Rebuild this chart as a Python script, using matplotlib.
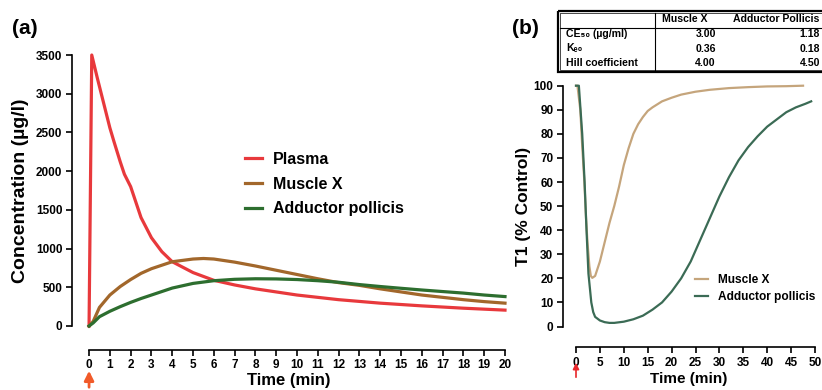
import matplotlib
matplotlib.use("Agg")
from matplotlib import pyplot as plt
from matplotlib.patches import Rectangle

plt.rcParams['font.family'] = ['Liberation Sans', 'DejaVu Sans']
plt.rcParams['font.weight'] = 'bold'

# panel (a): concentration vs time
plasma_t = [0, 0.13, 0.4, 0.7, 1.0, 1.2, 1.5, 1.7, 2.0, 2.5, 3.0, 3.5, 4.0, 5.0, 6.0,
            7, 8, 10, 12, 14, 16, 18, 20]
plasma_c = [0, 3500, 3200, 2880, 2560, 2380, 2120, 1960, 1800, 1400, 1140, 960, 830, 690, 590,
            530, 480, 400, 340, 295, 260, 230, 205]

musclex_t = [0, 0.2, 0.5, 1.0, 1.5, 2.0, 2.5, 3, 4, 5, 5.5, 6, 7, 8, 9, 10, 11, 12, 13,
             14, 15, 16, 17, 18, 19, 20]
musclex_c = [0, 60, 240, 400, 510, 600, 680, 740, 830, 865, 872, 865, 825, 775, 720, 665, 610,
             560, 525, 480, 440, 400, 370, 340, 315, 295]

adductor_t = [0, 0.2, 0.5, 1, 1.5, 2, 2.5, 3, 4, 5, 6, 7, 8, 9, 10, 11, 12, 13, 14, 15, 16,
              17, 18, 19, 20]
adductor_c = [0, 40, 120, 190, 250, 305, 355, 400, 490, 550, 585, 603, 610, 608, 600, 585, 565,
              535, 510, 487, 465, 445, 425, 400, 380]

# panel (b): T1 (% control) vs time
t1_muscle_t = [0, 0.3, 0.9, 1.3, 1.75, 2.1, 2.4, 2.8, 3.1, 3.4, 4, 5, 6, 7, 8, 9, 10, 11, 12,
               13, 14, 15, 16, 18, 20, 22, 25, 28, 32, 36, 40, 44, 47.5]
t1_muscle_v = [100, 100, 90, 75, 60, 45, 35, 25, 21, 20.2, 21, 27, 35, 43, 50, 58, 67, 74, 80,
               84, 87, 89.5, 91, 93.5, 95, 96.3, 97.5, 98.3, 99, 99.4, 99.7, 99.8, 100]

t1_add_t = [0, 0.6, 1.3, 1.8, 2.2, 2.6, 3.2, 3.6, 4, 5, 6, 7, 8, 10, 12, 14, 16, 18, 20, 22,
            24, 26, 28, 30, 32, 34, 36, 38, 40, 42, 44, 46, 48, 49.2]
t1_add_v = [100, 100, 80, 60, 40, 22, 10, 6, 4, 2.5, 1.8, 1.5, 1.5, 2, 3, 4.5, 7, 10, 14.5, 20,
            27, 36, 45, 54, 62, 69, 74.5, 79, 83, 86, 89, 91, 92.5, 93.5]

# table of parameters
table_params = ['CE\u2085\u2080 (\u00b5g/ml)', 'K\u2091\u2080', 'Hill coefficient']
table_musclex = ['3.00', '0.36', '4.00']
table_adductor = ['1.18', '0.18', '4.50']

W, H = 822, 390
fig = plt.figure(figsize=(W / 100, H / 100), dpi=100)


def fx(px):
    return px / W


def fy(py):
    return 1 - py / H


# ---- panel (a)
ax = fig.add_axes([fx(72), fy(326), fx(505 - 72), (326 - 55) / H])
ax.plot(plasma_t, plasma_c, color='#e8393c', lw=2.3, label='Plasma', clip_on=False)
ax.plot(musclex_t, musclex_c, color='#a2672b', lw=2.3, label='Muscle X', clip_on=False)
ax.plot(adductor_t, adductor_c, color='#2d6e2f', lw=2.3, label='Adductor pollicis', clip_on=False)
ax.set_xlim(-0.82, 20)
ax.set_ylim(0, 3500)
ax.set_xticks(range(0, 21))
ax.set_yticks(range(0, 3501, 500))
for s in ['top', 'right']:
    ax.spines[s].set_visible(False)
ax.spines['bottom'].set_position(('outward', 17))
ax.spines['bottom'].set_bounds(0, 20)
ax.spines['left'].set_linewidth(1.2)
ax.spines['bottom'].set_linewidth(1.2)
ax.tick_params(direction='out', length=4, width=1.2, labelsize=8.5, pad=3)
ax.set_xlabel('Time (min)', fontsize=12, fontweight='bold', labelpad=1)
ax.set_ylabel('Concentration (\u00b5g/l)', fontsize=14, fontweight='bold', labelpad=5)
ax.legend(loc='upper left', bbox_to_anchor=(fx(245), fy(152)), bbox_transform=fig.transFigure,
          frameon=False, fontsize=11.5, handlelength=1.05, handletextpad=0.7,
          labelspacing=0.6, borderpad=0, borderaxespad=0)
fig.text(fx(12), fy(28), '(a)', fontsize=15, fontweight='bold', va='center')
ax.annotate('', xy=(0, fy(368)), xycoords=('data', 'figure fraction'),
            xytext=(0, 0), textcoords=('data', 'figure fraction'),
            arrowprops=dict(arrowstyle='-|>', color='#f15a29', lw=2, mutation_scale=14),
            annotation_clip=False)

# ---- panel (b)
bx = fig.add_axes([fx(563), fy(326.5), fx(815 - 563), (326.5 - 85.7) / H])
bx.plot(t1_muscle_t, t1_muscle_v, color='#c5a57c', lw=1.6, label='Muscle X', clip_on=False)
bx.plot(t1_add_t, t1_add_v, color='#3b6b55', lw=1.6, label='Adductor pollicis', clip_on=False)
bx.set_xlim(-2.72, 50)
bx.set_ylim(0, 100)
bx.set_xticks(range(0, 51, 5))
bx.set_yticks(range(0, 101, 10))
for s in ['top', 'right']:
    bx.spines[s].set_visible(False)
bx.spines['bottom'].set_position(('outward', 15))
bx.spines['bottom'].set_bounds(0, 50)
bx.spines['left'].set_linewidth(1.2)
bx.spines['bottom'].set_linewidth(1.2)
bx.tick_params(direction='out', length=4, width=1.2, labelsize=8.5, pad=3)
bx.set_xlabel('Time (min)', fontsize=11, fontweight='bold', labelpad=2)
bx.set_ylabel('T1 (% Control)', fontsize=12.5, fontweight='bold', labelpad=2)
bx.legend(loc='upper left', bbox_to_anchor=(fx(695), fy(274)), bbox_transform=fig.transFigure,
          frameon=False, fontsize=8.6, handlelength=1.1, handletextpad=0.8,
          labelspacing=0.42, borderpad=0, borderaxespad=0)
fig.text(fx(512), fy(28), '(b)', fontsize=15, fontweight='bold', va='center')
bx.annotate('', xy=(0, fy(360)), xycoords=('data', 'figure fraction'),
            xytext=(0, fy(380)), textcoords=('data', 'figure fraction'),
            arrowprops=dict(arrowstyle='-|>', color='#e8262a', lw=1.2, mutation_scale=9),
            annotation_clip=False)

# ---- parameter table (drawn in pixel coordinates)
tx = fig.add_axes([fx(556), fy(75), fx(900 - 556), 67 / H])
tx.set_xlim(556, 900)
tx.set_ylim(75, 8)
tx.axis('off')
tx.add_patch(Rectangle((558, 10.5), 340, 61.5, fill=False, lw=1.6, ec='black'))
tx.add_patch(Rectangle((560.5, 13), 340, 56.5, fill=False, lw=0.5, ec='black'))
tx.plot([560.5, 900], [28, 28], color='black', lw=0.8)
tx.plot([655, 655], [13, 69.5], color='black', lw=0.8)
tx.text(662, 19.5, 'Muscle X', fontsize=7.6, fontweight='bold', va='center')
tx.text(733, 19.5, 'Adductor Pollicis', fontsize=7.6, fontweight='bold', va='center')
row_y = [34, 48.5, 63]
for y, p, m, a in zip(row_y, table_params, table_musclex, table_adductor):
    tx.text(566, y, p, fontsize=7.6, fontweight='bold', va='center')
    tx.text(716, y, m, fontsize=7.6, fontweight='bold', va='center', ha='right')
    tx.text(820, y, a, fontsize=7.6, fontweight='bold', va='center', ha='right')

fig.savefig('out.png', dpi=100)
